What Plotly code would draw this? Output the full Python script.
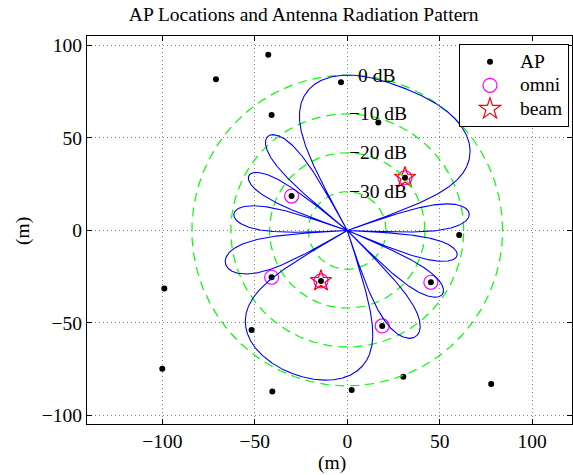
import numpy as np
import plotly.graph_objects as go

# ---------------- data ----------------
ap_x = [-42.7, -71.0, -40.9, -3.4, 16.8, 31.2, 60.5, -30.1, -98.9, -100.0,
        -40.9, -51.7, -40.5, -14.2, 2.4, 45.2, 18.9, 30.3, 77.8]
ap_y = [94.9, 81.7, 62.4, 80.1, 58.3, 28.5, -2.4, 18.6, -31.3, -74.7,
        -25.3, -53.8, -87.1, -27.3, -86.2, -28.0, -51.6, -79.0, -83.0]
omni_x = [-30.1, -40.9, 45.2, 18.9, 31.2, -14.2]
omni_y = [18.6, -25.3, -28.0, -51.6, 28.5, -27.3]
beam_x = [31.2, -14.2]
beam_y = [28.5, -27.3]

ring_db = [0, -10, -20, -30]
ring_labels = ["0 dB", "\u221210 dB", "\u221220 dB", "\u221230 dB"]
floor_db = -40.0
r_0db = 84.0            # radius of the 0 dB ring (m)

# linear-array pattern model (array axis, nulls in psi-space, lobe peak levels)
array_axis_deg = 69.0
null_psi = [0.70, 1.86, 3.04, 4.14, 5.18]
lobe_db = [-7.5, -10.5, -11.0, -8.3, 0.0]   # last = main lobe

x_ticks = [-100, -50, 0, 50, 100]
y_ticks = [-100, -50, 0, 50, 100]

# ---------------- pattern ----------------
def db_to_r(db):
    db = np.clip(db, floor_db, None)
    return r_0db * (db - floor_db) / (-floor_db)

theta = np.linspace(0, 2 * np.pi, 7201)
psi = np.pi * (1 + np.cos(theta - np.deg2rad(array_axis_deg)))
edges = np.array(null_psi + [null_psi[0] + 2 * np.pi])
psi_w = np.where(psi < edges[0], psi + 2 * np.pi, psi)
idx = np.clip(np.searchsorted(edges, psi_w, side="right") - 1, 0, len(lobe_db) - 1)
a = edges[idx]
b = edges[idx + 1]
amp = 10 ** (np.array(lobe_db)[idx] / 20) * np.abs(np.sin(np.pi * (psi_w - a) / (b - a)))
pat_db = 20 * np.log10(np.maximum(amp, 1e-12))
r = db_to_r(pat_db)
pat_x = r * np.cos(theta)
pat_y = r * np.sin(theta)

FONT = "Liberation Serif, Times New Roman, serif"
FS = 19.5

def leg(name):
    return "<span style='font-size:19.5px'>" + name + "</span>"

fig = go.Figure()
fig.add_trace(go.Scatter(x=ap_x, y=ap_y, mode="markers", name=leg("AP"),
                         marker=dict(color="black", size=6)))
fig.add_trace(go.Scatter(x=omni_x, y=omni_y, mode="markers", name=leg("omni"),
                         marker=dict(symbol="circle-open", color="#FF00FF", size=14,
                                     line=dict(width=1.2))))
fig.add_trace(go.Scatter(x=beam_x, y=beam_y, mode="markers", name=leg("beam"),
                         marker=dict(symbol="star-open", color="#FF0000", size=16,
                                     line=dict(width=1.2))))

t = np.linspace(0, 2 * np.pi, 721)
for d in ring_db:
    rr = db_to_r(d)
    fig.add_trace(go.Scatter(x=rr * np.cos(t), y=rr * np.sin(t), mode="lines",
                             showlegend=False, hoverinfo="skip",
                             line=dict(color="#00FF00", width=1.2, dash="9px,6px")))

fig.add_trace(go.Scatter(x=pat_x, y=pat_y, mode="lines", showlegend=False,
                         line=dict(color="#0000FF", width=1.1)))

for d, lab in zip(ring_db, ring_labels):
    fig.add_annotation(x=0, y=float(db_to_r(d)), text=lab, showarrow=False,
                       xanchor="left", yanchor="middle",
                       xshift=9 if d == 0 else 0,
                       font=dict(family=FONT, size=FS, color="black"))

# axis titles
fig.add_annotation(xref="paper", yref="paper", x=(331.7 - 87) / 485, y=(424 - 463) / 388,
                   text="(m)", showarrow=False, xanchor="center", yanchor="middle",
                   font=dict(family=FONT, size=FS, color="black"))
fig.add_annotation(xref="paper", yref="paper", x=(23 - 87) / 485, y=(424 - 231) / 388,
                   text="(m)", showarrow=False, xanchor="center", yanchor="middle",
                   textangle=-90, font=dict(family=FONT, size=FS, color="black"))

axis_common = dict(showline=True, linecolor="black", linewidth=1, mirror="ticks",
                   ticks="inside", ticklen=5, tickcolor="black", tickwidth=1,
                   showgrid=True, gridcolor="#808080", gridwidth=1, griddash="1px,3px",
                   zeroline=False, tickfont=dict(family=FONT, size=FS, color="black"))

fig.update_layout(
    width=573, height=475,
    margin=dict(l=87, r=1, t=36, b=51),
    paper_bgcolor="white", plot_bgcolor="white",
    title=dict(text="AP Locations and Antenna Radiation Pattern",
               x=303.7 / 573, xanchor="center", y=1 - 14.5 / 475, yanchor="middle",
               font=dict(family=FONT, size=FS, color="black")),
    xaxis=dict(range=[-140.7, 121.5], tickvals=x_ticks, **axis_common),
    yaxis=dict(range=[-104.6, 105.1], tickvals=y_ticks, **axis_common),
    legend=dict(x=(569 - 87) / 485, y=(424 - 44) / 388, xanchor="right", yanchor="top",
                bordercolor="black", borderwidth=1, bgcolor="white",
                font=dict(family=FONT, size=15.8, color="black"),
                itemwidth=50, tracegroupgap=0),
    showlegend=True,
)

fig.write_html("out.html")
